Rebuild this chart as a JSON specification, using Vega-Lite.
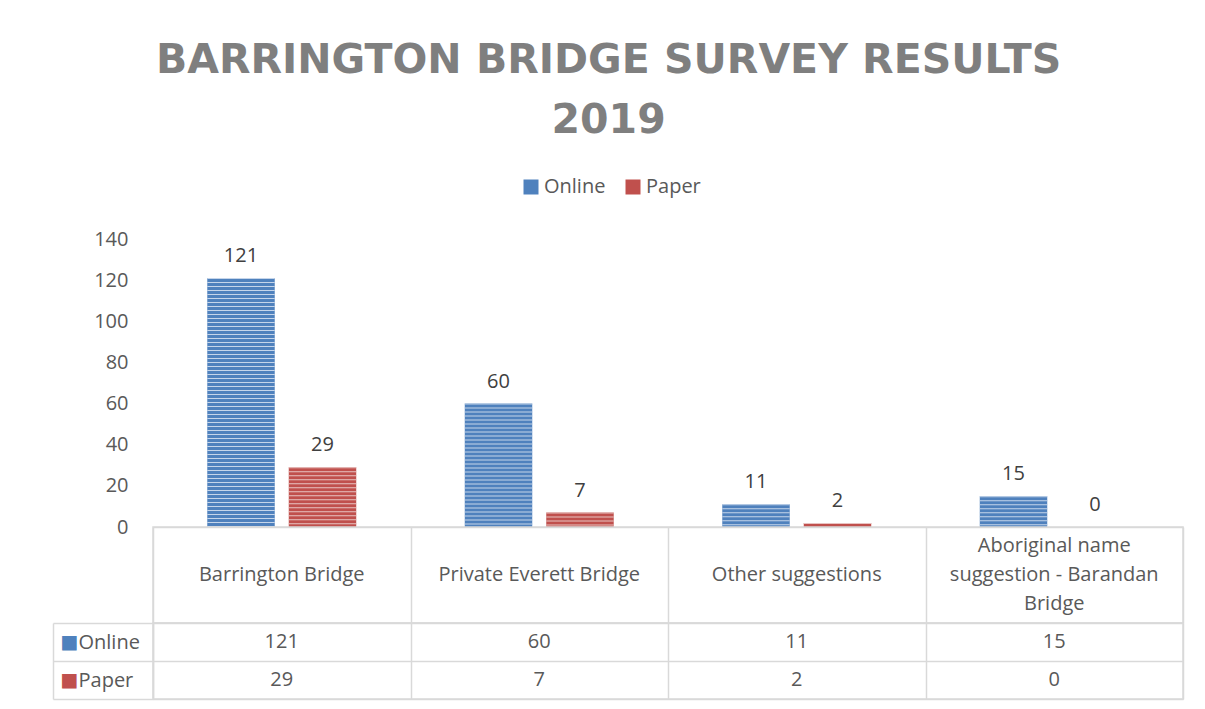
{
  "$schema": "https://vega.github.io/schema/vega-lite/v6.json",
  "background": "white",
  "padding": {"left": 51, "top": 40, "right": 20, "bottom": 10},
  "bounds": "flush",
  "spacing": 0,
  "config": {
    "font": "Open Sans",
    "view": {"stroke": null},
    "axis": {"labelFont": "Open Sans"},
    "legend": {"labelFont": "Open Sans"}
  },
  "title": {
    "text": ["BARRINGTON BRIDGE SURVEY RESULTS", "2019"],
    "font": "DejaVu Sans",
    "fontSize": 41,
    "fontWeight": "bold",
    "color": "#7f7f7f",
    "lineHeight": 60,
    "frame": "bounds",
    "anchor": "middle",
    "dx": -9,
    "offset": 35
  },
  "datasets": {
    "survey": [
      {"category": "Barrington Bridge", "series": "Online", "value": 121},
      {"category": "Barrington Bridge", "series": "Paper", "value": 29},
      {"category": "Private Everett Bridge", "series": "Online", "value": 60},
      {"category": "Private Everett Bridge", "series": "Paper", "value": 7},
      {"category": "Other suggestions", "series": "Online", "value": 11},
      {"category": "Other suggestions", "series": "Paper", "value": 2},
      {"category": "Aboriginal name suggestion - Barandan Bridge", "series": "Online", "value": 15},
      {"category": "Aboriginal name suggestion - Barandan Bridge", "series": "Paper", "value": 0}
    ],
    "categories": [
      {"category": "Barrington Bridge", "header": "Barrington Bridge"},
      {"category": "Private Everett Bridge", "header": "Private Everett Bridge"},
      {"category": "Other suggestions", "header": "Other suggestions"},
      {"category": "Aboriginal name suggestion - Barandan Bridge", "header": "Aboriginal name\nsuggestion - Barandan\nBridge"}
    ]
  },
  "vconcat": [
    {
      "width": 1030,
      "height": 288,
      "data": {"name": "survey"},
      "encoding": {
        "x": {
          "field": "category", "type": "nominal",
          "scale": {"domain": ["Barrington Bridge", "Private Everett Bridge", "Other suggestions", "Aboriginal name suggestion - Barandan Bridge"], "paddingInner": 0, "paddingOuter": 0},
          "axis": {"title": null, "labels": false, "ticks": false, "domain": true, "domainColor": "#d9d9d9", "domainWidth": 1.5, "grid": false}
        },
        "xOffset": {
          "field": "series", "type": "nominal",
          "scale": {"domain": ["Online", "Paper"], "paddingInner": 0.172, "paddingOuter": 0.666}
        },
        "y": {
          "field": "value", "type": "quantitative",
          "scale": {"domain": [0, 140], "nice": false},
          "axis": {"title": null, "values": [0, 20, 40, 60, 80, 100, 120, 140], "grid": false, "ticks": false, "tickSize": 0, "domain": false, "labelFontSize": 20, "labelColor": "#595959", "labelPadding": 25}
        }
      },
      "layer": [
        {
          "mark": {"type": "bar"},
          "encoding": {
            "color": {
              "field": "series", "type": "nominal",
              "scale": {"domain": ["Online", "Paper"], "range": ["#4f81bd", "#c0504d"]},
              "legend": {
                "title": null, "orient": "none", "direction": "horizontal",
                "legendX": 368, "legendY": -62,
                "symbolType": "square", "symbolSize": 225, "symbolStrokeWidth": 0,
                "labelFontSize": 20, "labelColor": "#595959", "labelOffset": 3,
                "columnPadding": 17
              }
            }
          }
        },
        {
          "mark": {"type": "rule", "strokeWidth": 67.5, "strokeDash": [1, 3], "strokeCap": "butt"},
          "encoding": {
            "y2": {"datum": 0},
            "stroke": {
              "field": "series", "type": "nominal",
              "scale": {"domain": ["Online", "Paper"], "range": ["#c5d5ea", "#e8c3c2"]},
              "legend": null
            }
          }
        },
        {
          "mark": {"type": "text", "baseline": "alphabetic", "dy": -16, "fontSize": 20, "color": "#404040"},
          "encoding": {"text": {"field": "value", "type": "quantitative"}}
        }
      ]
    },
    {
      "width": 1030,
      "height": 96,
      "data": {"name": "categories"},
      "view": {"stroke": "#d9d9d9", "strokeWidth": 1.5},
      "encoding": {
        "x": {
          "field": "category", "type": "nominal",
          "scale": {"domain": ["Barrington Bridge", "Private Everett Bridge", "Other suggestions", "Aboriginal name suggestion - Barandan Bridge"], "paddingInner": 0, "paddingOuter": 0},
          "axis": {"title": null, "labels": false, "ticks": false, "domain": false, "grid": true, "tickBand": "extent", "gridColor": "#d9d9d9", "gridWidth": 1.5}
        },
        "text": {"field": "header", "type": "nominal"}
      },
      "layer": [
        {
          "transform": [{"filter": "indexof(datum.header, '\\n') < 0"}],
          "mark": {"type": "text", "fontSize": 20, "color": "#595959", "baseline": "middle"}
        },
        {
          "transform": [{"filter": "indexof(datum.header, '\\n') >= 0"}],
          "mark": {"type": "text", "fontSize": 20, "color": "#595959", "lineBreak": "\n", "lineHeight": 29, "baseline": "middle", "dy": -29}
        }
      ]
    },
    {
      "width": 1030,
      "height": 76,
      "data": {"name": "survey"},
      "view": {"stroke": "#d9d9d9", "strokeWidth": 1.5},
      "layer": [
        {
          "mark": {"type": "text", "fontSize": 20, "color": "#595959"},
          "encoding": {
            "x": {
              "field": "category", "type": "nominal",
              "scale": {"domain": ["Barrington Bridge", "Private Everett Bridge", "Other suggestions", "Aboriginal name suggestion - Barandan Bridge"], "paddingInner": 0, "paddingOuter": 0},
              "axis": {"title": null, "labels": false, "ticks": false, "domain": false, "grid": true, "tickBand": "extent", "gridColor": "#d9d9d9", "gridWidth": 1.5}
            },
            "y": {
              "field": "series", "type": "nominal",
              "scale": {"domain": ["Online", "Paper"], "paddingInner": 0, "paddingOuter": 0},
              "axis": {"title": null, "orient": "left", "tickBand": "extent", "grid": true, "gridColor": "#d9d9d9", "gridWidth": 1.5, "ticks": true, "tickSize": 100, "tickColor": "#d9d9d9", "tickWidth": 1.5, "domain": true, "domainColor": "#d9d9d9", "domainWidth": 1.5, "labelAlign": "left", "labelBaseline": "middle", "labelPadding": -25, "labelFontSize": 20, "labelColor": "#595959"}
            },
            "text": {"field": "value", "type": "quantitative"}
          }
        },
        {
          "mark": {"type": "text", "text": ""},
          "encoding": {
            "y": {
              "field": "series", "type": "nominal",
              "scale": {"domain": ["Online", "Paper"], "paddingInner": 0, "paddingOuter": 0},
              "axis": {"title": null, "orient": "left", "ticks": false, "tickSize": 0, "domain": false, "grid": false, "labelExpr": "'■'", "labelFont": "DejaVu Sans", "labelFontSize": 19, "labelAlign": "left", "labelBaseline": "middle", "labelPadding": 93, "labelColor": {"condition": {"test": "datum.value === 'Online'", "value": "#4f81bd"}, "value": "#c0504d"}}
            }
          }
        },
        {
          "mark": {"type": "text", "text": ""},
          "encoding": {
            "y": {
              "field": "series", "type": "nominal",
              "scale": {"domain": ["Online", "Paper"], "paddingInner": 0, "paddingOuter": 0},
              "axis": {"title": null, "orient": "left", "offset": 100, "domain": true, "domainColor": "#d9d9d9", "domainWidth": 1.5, "labels": false, "ticks": false, "grid": false}
            }
          }
        }
      ],
      "resolve": {"axis": {"y": "independent"}}
    }
  ]
}
